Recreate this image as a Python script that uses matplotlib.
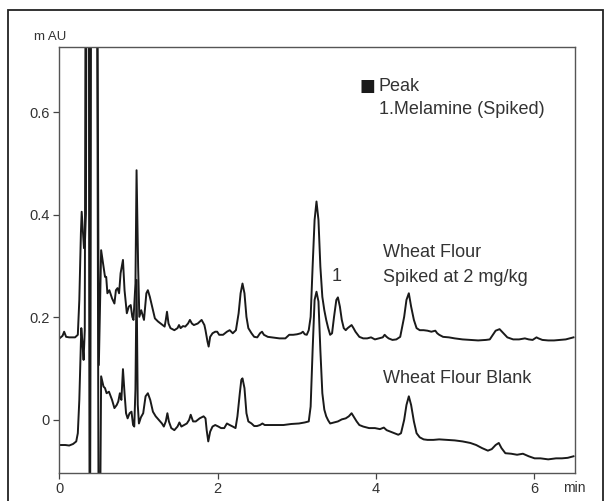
import numpy as np
import matplotlib
matplotlib.use("Agg")
import matplotlib.pyplot as plt
from matplotlib.patches import Rectangle

plt.rcParams['font.family'] = ['Liberation Sans', 'DejaVu Sans']

# retention time (min) and absorbance
# values above 0.73 / below -0.1 are off-scale spikes that get clipped
spiked_t = [0.000, 0.039, 0.059, 0.084, 0.123, 0.197, 0.232, 0.251, 0.271, 0.281,
            0.296, 0.310, 0.320, 0.335, 0.345, 0.370, 0.385, 0.400, 0.470, 0.498,
            0.527, 0.557, 0.576, 0.591, 0.606, 0.631, 0.665, 0.695, 0.714, 0.734,
            0.754, 0.773, 0.803, 0.823, 0.852, 0.877, 0.901, 0.921, 0.936, 0.961,
            0.975, 0.995, 1.010, 1.034, 1.069, 1.099, 1.118, 1.143, 1.182, 1.207,
            1.246, 1.281, 1.305, 1.330, 1.345, 1.360, 1.379, 1.404, 1.453, 1.493,
            1.512, 1.532, 1.562, 1.591, 1.626, 1.650, 1.675, 1.700, 1.749, 1.798,
            1.833, 1.847, 1.872, 1.887, 1.906, 1.936, 1.970, 1.995, 2.020, 2.069,
            2.118, 2.153, 2.192, 2.232, 2.266, 2.291, 2.315, 2.340, 2.365, 2.389,
            2.429, 2.463, 2.502, 2.537, 2.562, 2.586, 2.635, 2.685, 2.783, 2.857,
            2.906, 2.956, 3.005, 3.054, 3.079, 3.103, 3.128, 3.153, 3.177, 3.202,
            3.227, 3.251, 3.276, 3.300, 3.325, 3.350, 3.374, 3.399, 3.424, 3.448,
            3.473, 3.502, 3.522, 3.547, 3.571, 3.596, 3.621, 3.645, 3.670, 3.695,
            3.719, 3.744, 3.793, 3.842, 3.892, 3.941, 3.990, 4.039, 4.089, 4.113,
            4.138, 4.163, 4.212, 4.261, 4.310, 4.360, 4.389, 4.419, 4.448, 4.483,
            4.517, 4.557, 4.606, 4.655, 4.704, 4.754, 4.778, 4.803, 4.852, 4.926,
            5.000, 5.099, 5.197, 5.296, 5.394, 5.443, 5.483, 5.517, 5.567, 5.616,
            5.665, 5.739, 5.813, 5.887, 5.936, 5.985, 6.034, 6.059, 6.108, 6.182,
            6.256, 6.330, 6.404, 6.502]
spiked_au = [0.159, 0.164, 0.172, 0.162, 0.161, 0.161, 0.166, 0.234, 0.364, 0.406,
             0.370, 0.335, 0.338, 0.403, 1.200, 1.200, -0.300, 1.200, 1.200, 0.107,
             0.331, 0.299, 0.279, 0.279, 0.247, 0.253, 0.237, 0.227, 0.253, 0.257,
             0.247, 0.286, 0.312, 0.253, 0.208, 0.221, 0.224, 0.201, 0.195, 0.266,
             0.487, 0.299, 0.201, 0.214, 0.195, 0.247, 0.253, 0.240, 0.214, 0.198,
             0.192, 0.188, 0.185, 0.182, 0.195, 0.211, 0.188, 0.179, 0.175, 0.179,
             0.185, 0.179, 0.183, 0.182, 0.188, 0.195, 0.188, 0.185, 0.188, 0.195,
             0.185, 0.175, 0.153, 0.143, 0.162, 0.169, 0.172, 0.172, 0.166, 0.166,
             0.172, 0.175, 0.169, 0.175, 0.208, 0.247, 0.266, 0.247, 0.201, 0.179,
             0.169, 0.162, 0.161, 0.169, 0.172, 0.166, 0.162, 0.161, 0.159, 0.159,
             0.166, 0.166, 0.167, 0.169, 0.172, 0.167, 0.166, 0.175, 0.201, 0.299,
             0.390, 0.426, 0.390, 0.299, 0.240, 0.214, 0.195, 0.179, 0.166, 0.169,
             0.201, 0.234, 0.239, 0.221, 0.195, 0.179, 0.175, 0.179, 0.182, 0.185,
             0.179, 0.172, 0.162, 0.159, 0.159, 0.161, 0.157, 0.159, 0.161, 0.166,
             0.162, 0.159, 0.156, 0.157, 0.162, 0.201, 0.234, 0.247, 0.221, 0.195,
             0.179, 0.175, 0.175, 0.174, 0.172, 0.174, 0.169, 0.166, 0.162, 0.161,
             0.159, 0.157, 0.156, 0.155, 0.156, 0.157, 0.166, 0.174, 0.177, 0.169,
             0.161, 0.157, 0.157, 0.159, 0.157, 0.156, 0.161, 0.159, 0.156, 0.155,
             0.155, 0.156, 0.157, 0.161]

blank_t = [0.000, 0.074, 0.123, 0.172, 0.212, 0.232, 0.251, 0.266, 0.276, 0.291,
           0.305, 0.320, 0.335, 0.370, 0.385, 0.400, 0.470, 0.500, 0.527, 0.557,
           0.576, 0.596, 0.626, 0.665, 0.695, 0.724, 0.744, 0.764, 0.783, 0.803,
           0.823, 0.842, 0.862, 0.887, 0.911, 0.931, 0.946, 0.961, 0.975, 0.990,
           1.005, 1.030, 1.059, 1.089, 1.118, 1.148, 1.182, 1.217, 1.256, 1.296,
           1.320, 1.345, 1.365, 1.384, 1.414, 1.453, 1.493, 1.517, 1.542, 1.576,
           1.611, 1.640, 1.660, 1.690, 1.724, 1.773, 1.823, 1.847, 1.862, 1.882,
           1.906, 1.936, 1.970, 2.010, 2.044, 2.084, 2.118, 2.153, 2.192, 2.227,
           2.251, 2.281, 2.300, 2.315, 2.340, 2.365, 2.389, 2.429, 2.463, 2.498,
           2.537, 2.567, 2.596, 2.635, 2.734, 2.833, 2.931, 3.030, 3.103, 3.153,
           3.177, 3.202, 3.227, 3.251, 3.276, 3.300, 3.325, 3.350, 3.374, 3.399,
           3.424, 3.473, 3.522, 3.571, 3.621, 3.660, 3.695, 3.719, 3.759, 3.793,
           3.842, 3.916, 3.990, 4.054, 4.103, 4.138, 4.187, 4.236, 4.286, 4.320,
           4.360, 4.389, 4.419, 4.448, 4.483, 4.517, 4.557, 4.606, 4.655, 4.729,
           4.803, 4.901, 5.000, 5.099, 5.197, 5.271, 5.345, 5.419, 5.468, 5.517,
           5.557, 5.591, 5.640, 5.714, 5.788, 5.862, 5.936, 6.010, 6.084, 6.182,
           6.281, 6.355, 6.429, 6.502]
blank_au = [-0.049, -0.049, -0.050, -0.047, -0.042, -0.026, 0.039, 0.123, 0.179, 0.150,
            0.117, 0.175, 1.200, 1.200, -0.500, 1.200, 1.200, -0.500, 0.085, 0.065,
            0.062, 0.052, 0.055, 0.039, 0.023, 0.029, 0.036, 0.052, 0.039, 0.099,
            0.052, 0.013, 0.003, 0.013, 0.016, -0.010, -0.013, 0.060, 0.273, 0.030,
            -0.007, 0.005, 0.013, 0.046, 0.052, 0.039, 0.016, 0.007, 0.000, -0.007,
            -0.013, -0.003, 0.013, -0.003, -0.016, -0.020, -0.013, -0.005, -0.013, -0.010,
            -0.007, 0.000, 0.010, -0.003, -0.003, 0.003, 0.007, 0.003, -0.020, -0.042,
            -0.023, -0.013, -0.010, -0.013, -0.016, -0.016, -0.007, -0.010, -0.013, -0.016,
            0.007, 0.052, 0.078, 0.081, 0.062, 0.013, -0.003, -0.007, -0.012, -0.012,
            -0.010, -0.007, -0.010, -0.010, -0.010, -0.010, -0.008, -0.007, -0.005, -0.003,
            0.026, 0.136, 0.234, 0.250, 0.231, 0.136, 0.052, 0.020, 0.007, -0.001,
            -0.007, -0.005, -0.003, 0.001, 0.003, 0.007, 0.013, 0.007, -0.003, -0.010,
            -0.013, -0.016, -0.016, -0.018, -0.015, -0.020, -0.023, -0.026, -0.029, -0.026,
            0.000, 0.029, 0.046, 0.029, -0.003, -0.026, -0.034, -0.038, -0.039, -0.039,
            -0.038, -0.039, -0.040, -0.042, -0.045, -0.049, -0.055, -0.060, -0.057, -0.049,
            -0.045, -0.055, -0.065, -0.066, -0.068, -0.066, -0.071, -0.075, -0.075, -0.077,
            -0.075, -0.075, -0.074, -0.071]

y_ticks = [0, 0.2, 0.4, 0.6]
y_labels = ['0', '0.2', '0.4', '0.6']
x_ticks = [0, 2, 4, 6]

text_col = '#333333'

fig = plt.figure(figsize=(6.10, 5.01), dpi=100)
ax = fig.add_axes([0.0975, 0.0565, 0.845, 0.8503])

ax.plot(spiked_t, spiked_au, color='#1a1a1a', lw=1.4)
ax.plot(blank_t, blank_au, color='#1a1a1a', lw=1.4)

ax.set_xlim(0, 6.52)
ax.set_ylim(-0.103, 0.728)
ax.set_xticks(x_ticks)
ax.set_xticklabels([str(t) for t in x_ticks])
ax.set_yticks(y_ticks)
ax.set_yticklabels(y_labels)
ax.tick_params(direction='out', length=4, width=0.9, colors='#444444',
               labelcolor=text_col, labelsize=10.5, pad=3)
for s in ax.spines.values():
    s.set_color('#555555')
    s.set_linewidth(1.0)

ax.text(-0.018, 1.023, 'm AU', transform=ax.transAxes, ha='center', va='center',
        fontsize=9.5, color=text_col)
ax.text(0.998, -0.036, 'min', transform=ax.transAxes, ha='center', va='center',
        fontsize=10, color=text_col)

# annotations
ax.text(3.79, 0.651, '\u25A0', fontsize=12, color='#1a1a1a', ha='left', va='center',
        family=['DejaVu Sans'])
ax.text(4.04, 0.651, 'Peak', fontsize=13, color=text_col, ha='left', va='center')
ax.text(4.04, 0.606, '1.Melamine (Spiked)', fontsize=13, color=text_col, ha='left', va='center')
ax.text(4.09, 0.326, 'Wheat Flour', fontsize=13, color=text_col, ha='left', va='center')
ax.text(4.09, 0.278, 'Spiked at 2 mg/kg', fontsize=13, color=text_col, ha='left', va='center')
ax.text(3.51, 0.279, '1', fontsize=13, color=text_col, ha='center', va='center')
ax.text(4.09, 0.080, 'Wheat Flour Blank', fontsize=13, color=text_col, ha='left', va='center')

# outer frame of the figure panel (bottom edge falls outside the image)
fig.patches.append(Rectangle((0.0128, -0.05), 0.9757, 1.03, transform=fig.transFigure,
                             fill=False, edgecolor='#222222', lw=1.3))

fig.savefig('out.png', dpi=100)
